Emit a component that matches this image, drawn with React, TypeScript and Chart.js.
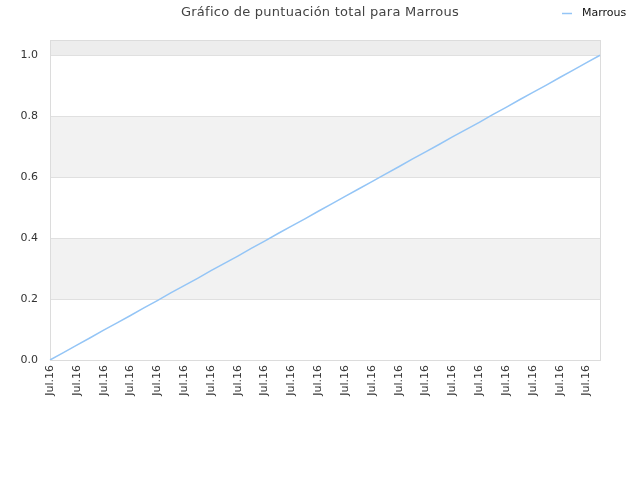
import React, { useEffect, useRef } from 'react';
import { Chart, registerables } from 'chart.js';

Chart.register(...registerables);

const TITLE = 'Gráfico de puntuación total para Marrous';
const SERIES_NAME = 'Marrous';
const DATE_LABELS: string[] = Array(42).fill('Jul.16');
const SCORES = [
  0, 0.024, 0.049, 0.073, 0.098, 0.122, 0.146, 0.171, 0.195, 0.22, 0.244, 0.268, 0.293, 0.317,
  0.341, 0.366, 0.39, 0.415, 0.439, 0.463, 0.488, 0.512, 0.537, 0.561, 0.585, 0.61, 0.634, 0.659,
  0.683, 0.707, 0.732, 0.756, 0.78, 0.805, 0.829, 0.854, 0.878, 0.902, 0.927, 0.951, 0.976, 1.0,
];
const Y_MAX = 1.05;
const BANDS = [
  [0.2, 0.4, '#f2f2f2'],
  [0.6, 0.8, '#f2f2f2'],
  [1.0, 1.05, '#ededed'],
] as const;

const LINE_COLOR = '#94c5f6';
const FONT = 'DejaVu Sans';

// bands behind the series, frame, title and legend
const decorPlugin = {
  id: 'decor',
  beforeDatasetsDraw(chart: any) {
    const { ctx, chartArea: a, scales } = chart;
    const y = scales.y;
    ctx.save();
    BANDS.forEach(([lo, hi, color]) => {
      const top = y.getPixelForValue(hi);
      const bottom = y.getPixelForValue(lo);
      ctx.fillStyle = color;
      ctx.fillRect(a.left, top, a.right - a.left, bottom - top);
    });
    // gridlines over bands
    ctx.strokeStyle = '#e0e0e0';
    ctx.lineWidth = 1;
    [0.2, 0.4, 0.6, 0.8, 1.0].forEach((v) => {
      const py = Math.round(y.getPixelForValue(v)) + 0.5;
      ctx.beginPath();
      ctx.moveTo(a.left, py);
      ctx.lineTo(a.right, py);
      ctx.stroke();
    });
    ctx.strokeStyle = '#dcdcdc';
    ctx.strokeRect(Math.round(a.left) + 0.5, Math.round(a.top) + 0.5, Math.round(a.right - a.left), Math.round(a.bottom - a.top));
    ctx.restore();
  },
  afterDraw(chart: any) {
    const { ctx } = chart;
    ctx.save();
    ctx.textBaseline = 'middle';
    ctx.fillStyle = '#444444';
    ctx.font = `13px "${FONT}"`;
    ctx.textAlign = 'center';
    (ctx as any).letterSpacing = '0.25px';
    ctx.fillText(TITLE, 320, 13);
    (ctx as any).letterSpacing = '0px';
    ctx.strokeStyle = LINE_COLOR;
    ctx.lineWidth = 1.5;
    ctx.beginPath();
    ctx.moveTo(562, 13.5);
    ctx.lineTo(572, 13.5);
    ctx.stroke();
    ctx.fillStyle = '#111111';
    ctx.font = `11px "${FONT}"`;
    ctx.textAlign = 'left';
    ctx.fillText(SERIES_NAME, 582, 13);
    ctx.restore();
  },
};

const App: React.FC = () => {
  const canvasRef = useRef<HTMLCanvasElement>(null);
  const chartInstance = useRef<Chart | null>(null);

  useEffect(() => {
    document.body.style.margin = '0';
    if (!canvasRef.current) return;
    const ctx = canvasRef.current.getContext('2d');
    if (!ctx) return;

    if (chartInstance.current) chartInstance.current.destroy();

    chartInstance.current = new Chart(ctx, {
      type: 'line',
      data: {
        labels: DATE_LABELS,
        datasets: [
          {
            label: SERIES_NAME,
            data: SCORES,
            borderColor: LINE_COLOR,
            borderWidth: 1.5,
            pointRadius: 0,
            fill: false,
            tension: 0,
          },
        ],
      },
      options: {
        animation: false,
        responsive: false,
        layout: { padding: { top: 40, right: 40, left: 0, bottom: 0 } },
        plugins: {
          legend: { display: false },
          title: { display: false },
          tooltip: { enabled: false },
        },
        scales: {
          x: {
            type: 'category',
            offset: false,
            grid: { display: false, drawTicks: false },
            border: { display: false },
            afterFit: (scale: any) => {
              scale.height = 120;
            },
            ticks: {
              autoSkip: false,
              maxRotation: 90,
              minRotation: 90,
              padding: 5,
              color: '#333333',
              font: { family: FONT, size: 11 },
              callback: (_v: any, i: number) => (i % 2 === 0 ? DATE_LABELS[i] : ''),
            },
          },
          y: {
            min: 0,
            max: Y_MAX,
            grid: { display: false, drawTicks: false },
            border: { display: false },
            afterFit: (scale: any) => {
              scale.width = 50;
            },
            afterBuildTicks: (scale: any) => {
              scale.ticks = [0, 0.2, 0.4, 0.6, 0.8, 1.0].map((v) => ({ value: v }));
            },
            ticks: {
              padding: 12,
              color: '#333333',
              font: { family: FONT, size: 11 },
              callback: (v: any) => Number(v).toFixed(1),
            },
          },
        },
      },
      plugins: [decorPlugin],
    });

    return () => {
      if (chartInstance.current) {
        chartInstance.current.destroy();
        chartInstance.current = null;
      }
    };
  }, []);

  return (
    <div style={{ width: 640, height: 480, background: '#ffffff' }}>
      <canvas ref={canvasRef} width={640} height={480} />
    </div>
  );
};

export default App;
